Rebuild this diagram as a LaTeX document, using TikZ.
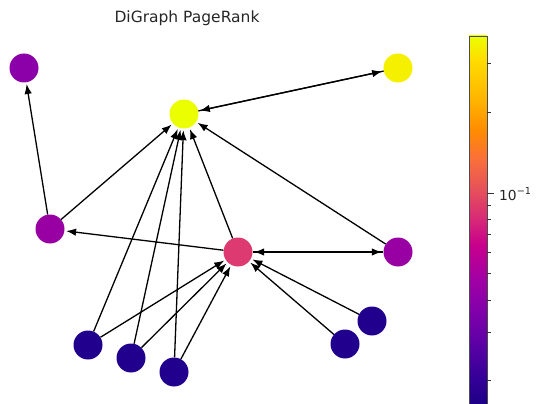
\documentclass[tikz,border=0pt]{standalone}
\usepackage{fontspec}
\setmainfont{DejaVu Sans}
\usetikzlibrary{arrows.meta}

% colour bar stops, bottom to top
\definecolor{cb00}{RGB}{30,0,135}
\definecolor{cb01}{RGB}{50,0,150}
\definecolor{cb02}{RGB}{90,0,165}
\definecolor{cb03}{RGB}{130,0,170}
\definecolor{cb04}{RGB}{160,0,165}
\definecolor{cb05}{RGB}{200,0,140}
\definecolor{cb06}{RGB}{215,40,120}
\definecolor{cb07}{RGB}{230,80,90}
\definecolor{cb08}{RGB}{250,110,60}
\definecolor{cb09}{RGB}{255,140,0}
\definecolor{cb10}{RGB}{255,180,0}
\definecolor{cb11}{RGB}{255,220,0}
\definecolor{cb12}{RGB}{235,255,0}

% node fill colours
\definecolor{nodeA}{RGB}{139,0,168}
\definecolor{nodeMid}{RGB}{152,0,164}
\definecolor{nodeHub}{RGB}{220,58,112}
\definecolor{nodeTop}{RGB}{236,255,0}
\definecolor{nodeTopR}{RGB}{245,240,0}
\definecolor{nodeLow}{RGB}{32,0,140}
\definecolor{titlegray}{RGB}{38,38,38}

% the shaded path is fitted to the middle 50bp of the 100bp shading
\pgfdeclareverticalshading{plasmashade}{100bp}{%
  color(0bp)=(cb00); color(25bp)=(cb00); color(28.26bp)=(cb01); color(33.02bp)=(cb02);
  color(37.77bp)=(cb03); color(41.85bp)=(cb04); color(46.6bp)=(cb05);
  color(50bp)=(cb06); color(54.08bp)=(cb07); color(58.15bp)=(cb08);
  color(62.23bp)=(cb09); color(66.3bp)=(cb10); color(71.74bp)=(cb11);
  color(75bp)=(cb12); color(100bp)=(cb12)}

\tikzset{
  vertex/.style={circle, minimum size=29pt, inner sep=0pt, draw=none},
  link/.style={-{Latex[length=10pt,width=7.5pt]}, line width=1.3pt, black, shorten >=1.5pt},
  cbtick/.style={line width=0.7pt, black!80},
}

\begin{document}
\begin{tikzpicture}[x=1pt,y=-1pt]
\useasboundingbox (0,0) rectangle (539,404);

% title
\node[text=titlegray, font=\fontsize{15.5}{18}\selectfont] (title) at (187,18) {DiGraph PageRank};

% vertices
\node[vertex, fill=nodeA]    (a) at (24,68) {};
\node[vertex, fill=nodeTop]  (b) at (184,114) {};
\node[vertex, fill=nodeTopR] (c) at (398,68) {};
\node[vertex, fill=nodeMid]  (d) at (50,229) {};
\node[vertex, fill=nodeHub]  (e) at (238,252) {};
\node[vertex, fill=nodeMid]  (f) at (398,252) {};
\node[vertex, fill=nodeLow]  (g) at (88,345) {};
\node[vertex, fill=nodeLow]  (h) at (131,358) {};
\node[vertex, fill=nodeLow]  (i) at (174,372) {};
\node[vertex, fill=nodeLow]  (j) at (345,344) {};
\node[vertex, fill=nodeLow]  (k) at (372,321) {};

% links
\draw[link] (d) -- (a);
\draw[link] (d) -- (b);
\draw[link] (e) -- (d);
\draw[link] (e) -- (b);
\draw[link] (e) -- (f);
\draw[link] (f) -- (e);
\draw[link] (f) -- (b);
\draw[link] (b) -- (c);
\draw[link] (c) -- (b);
\draw[link] (g) -- (b);
\draw[link] (h) -- (b);
\draw[link] (i) -- (b);
\draw[link] (g) -- (e);
\draw[link] (h) -- (e);
\draw[link] (i) -- (e);
\draw[link] (j) -- (e);
\draw[link] (k) -- (e);

% colour bar
\path[shading=plasmashade] (469,36) rectangle (487,404);
\coordinate (cbsw) at (469,404);
\coordinate (cbnw) at (469,36);
\coordinate (cbne) at (487,36);
\coordinate (cbse) at (487,404);
\draw[line width=0.8pt, black!70] (cbsw) -- (cbnw) -- (cbne) -- (cbse);
\foreach \ty in {63,112,205,219,234,252,273,300,332,380}
  \draw[cbtick] (487,\ty) -- (491,\ty);
\draw[cbtick] (487,193) -- (494,193);
\node[anchor=west, font=\fontsize{13.8}{16}\selectfont, text=titlegray, inner sep=0pt] (ticklabel) at (499,194) {10\textsuperscript{\char"2212 1}};
\end{tikzpicture}
\end{document}
